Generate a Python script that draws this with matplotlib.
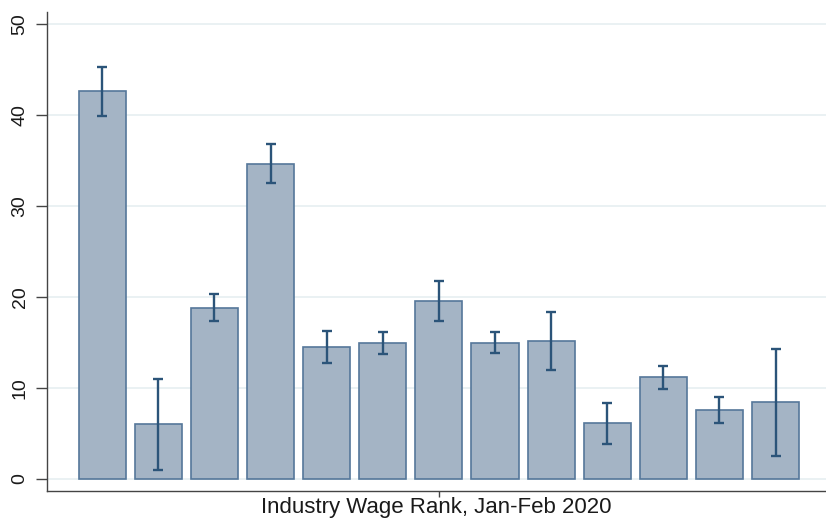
import numpy as np
import matplotlib
matplotlib.use("Agg")
import matplotlib.pyplot as plt

plt.rcParams["font.family"] = ["Liberation Sans", "DejaVu Sans"]

# mean share by industry wage rank, with confidence bounds
ranks = np.arange(1, 14)
means = [42.6, 6.0, 18.8, 34.6, 14.5, 14.9, 19.6, 14.9, 15.2, 6.1, 11.2, 7.55, 8.4]
ci_hi = [45.3, 11.0, 20.3, 36.8, 16.2, 16.15, 21.75, 16.15, 18.35, 8.3, 12.4, 9.0, 14.3]
ci_lo = [39.9, 0.95, 17.3, 32.5, 12.7, 13.7, 17.4, 13.8, 11.95, 3.85, 9.9, 6.1, 2.5]
yticks = [0, 10, 20, 30, 40, 50]

bar_fill = "#a4b4c5"
bar_edge = "#55779a"
err_col = "#2b5479"

fig = plt.figure(figsize=(8.26, 5.2), dpi=100)
ax = fig.add_axes([0.0565, 0.0558, 0.9435, 0.9212])

ax.bar(ranks, means, width=0.84, color=bar_fill, edgecolor=bar_edge,
       linewidth=1.2, zorder=2)
lo = np.array(means) - np.array(ci_lo)
hi = np.array(ci_hi) - np.array(means)
ax.errorbar(ranks, means, yerr=[lo, hi], fmt="none", ecolor=err_col,
            elinewidth=1.7, capsize=3.8, capthick=1.7, zorder=3)

ax.set_xlim(0.01, 13.9)
ax.set_ylim(-1.32, 51.3)
ax.set_yticks(yticks)
ax.set_yticklabels([str(t) for t in yticks], rotation=90, va="center",
                   fontsize=14, color="#1a1a1a")
ax.set_xticks([7])
ax.set_xticklabels([""])
ax.tick_params(axis="y", length=8, width=1.0, color="#444444", pad=5)
ax.tick_params(axis="x", length=4, width=1.0, color="#444444", pad=0)
ax.grid(axis="y", color="#e8f0f2", linewidth=1.3, zorder=0)
ax.set_axisbelow(True)

for side in ["top", "right"]:
    ax.spines[side].set_visible(False)
for side in ["left", "bottom"]:
    ax.spines[side].set_color("#444444")
    ax.spines[side].set_linewidth(1.0)

ax.set_xlabel("Industry Wage Rank, Jan-Feb 2020", fontsize=16,
              color="#1a1a1a", labelpad=0)

fig.savefig("out.png", dpi=100)
